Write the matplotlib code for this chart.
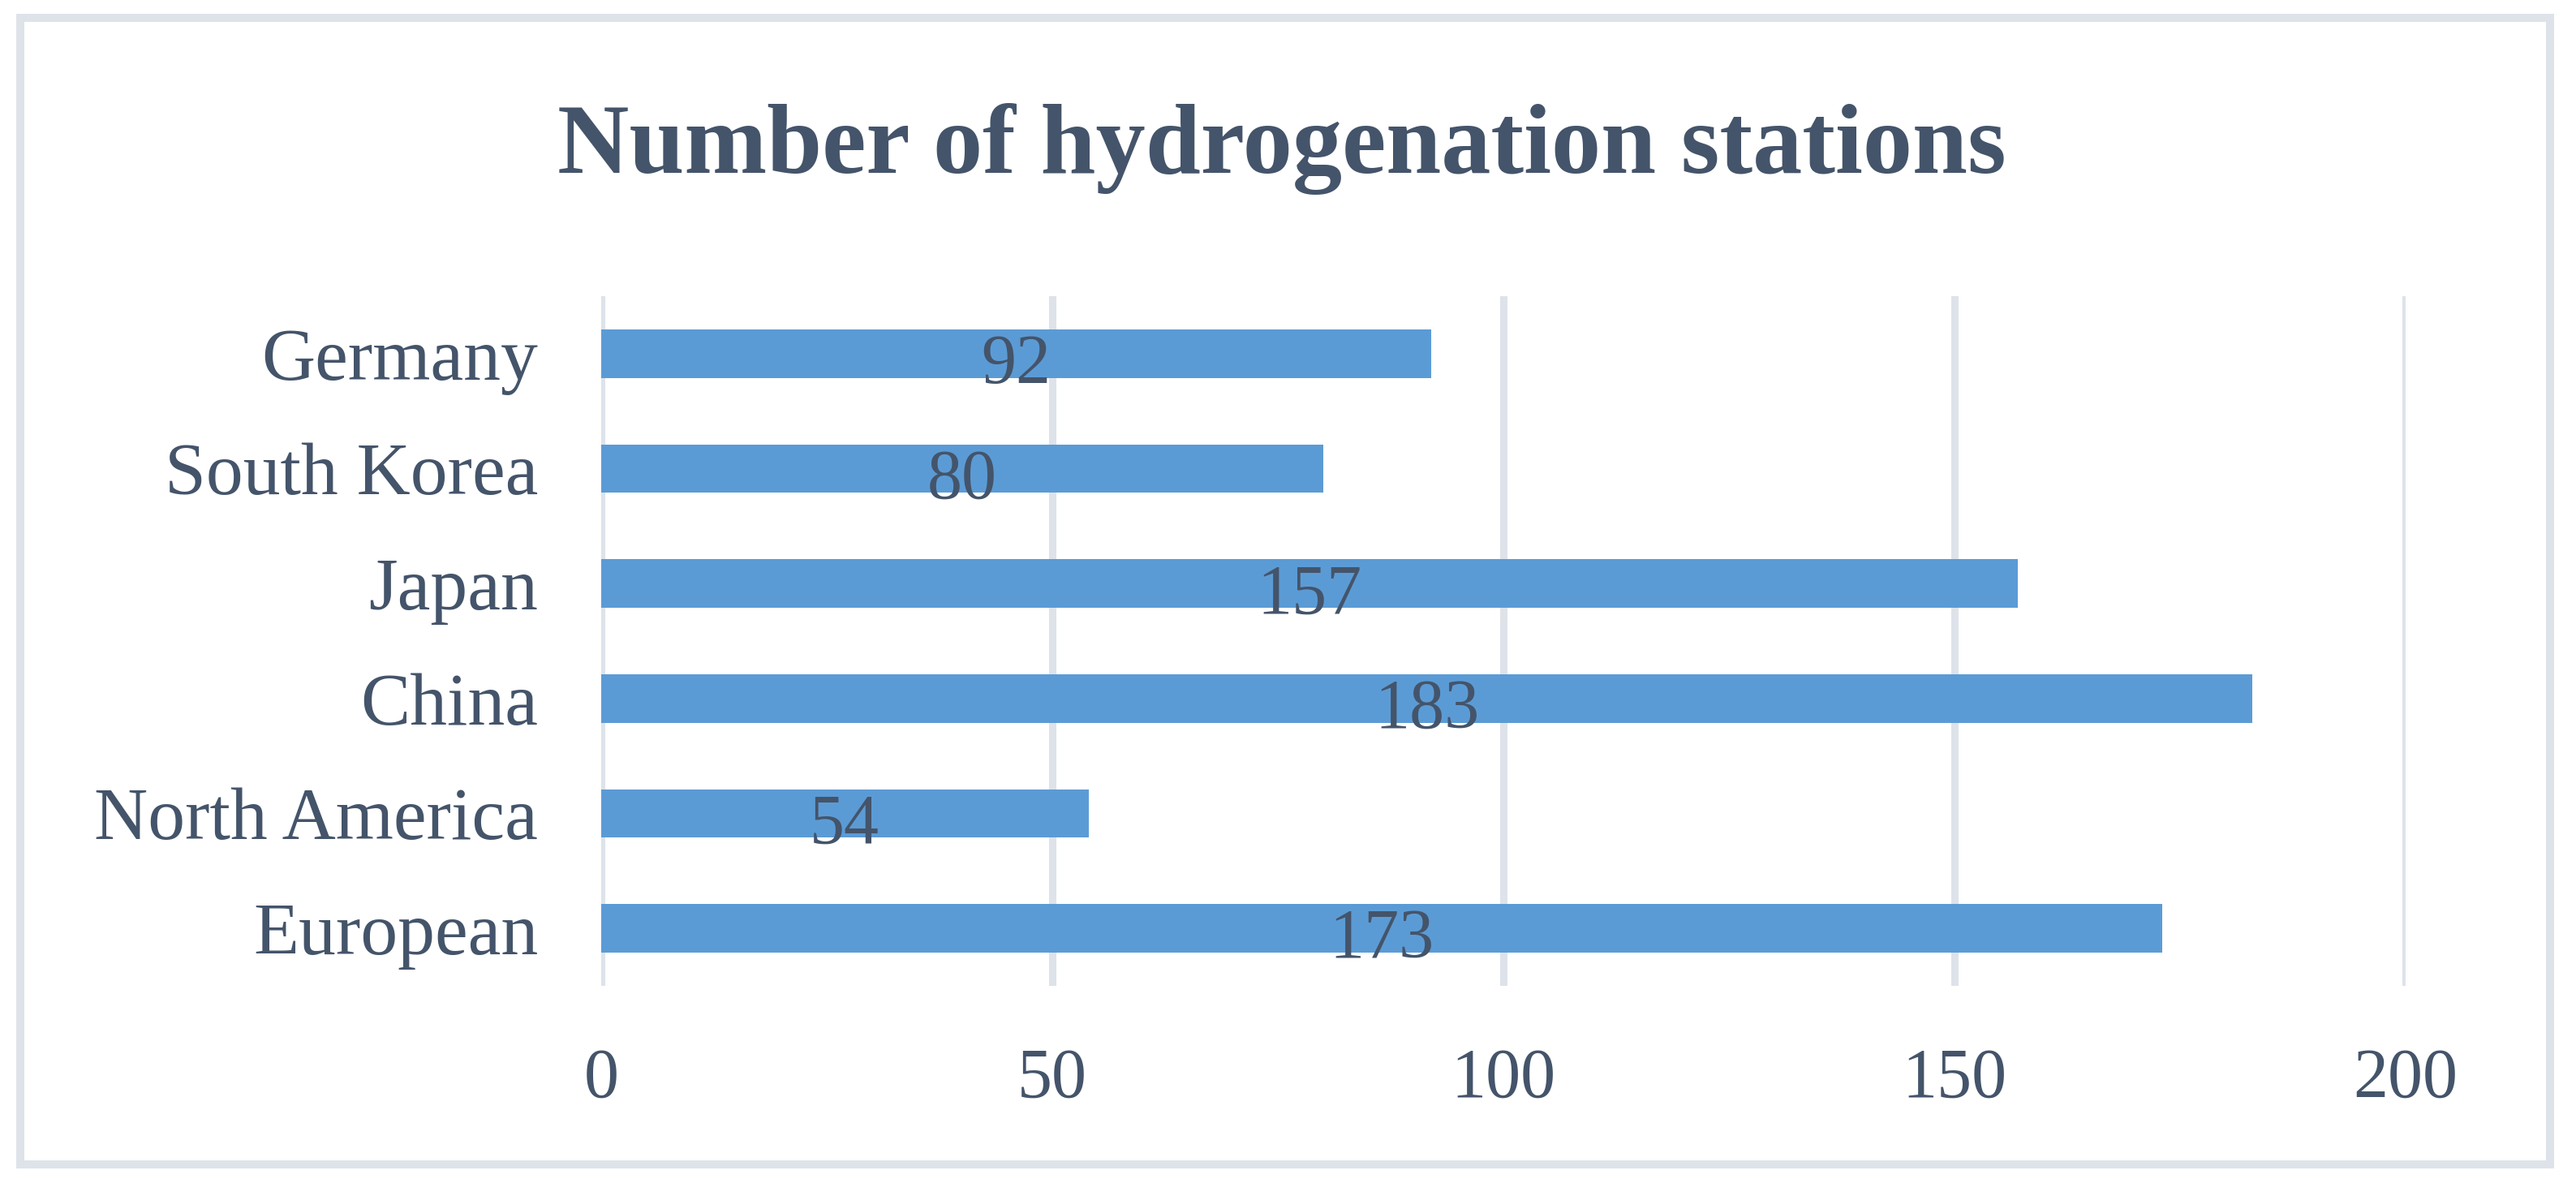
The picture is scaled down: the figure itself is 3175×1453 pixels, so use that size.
import matplotlib
matplotlib.use("Agg")
import matplotlib.pyplot as plt
from matplotlib.patches import Rectangle

# data (bottom to top as drawn)
regions = ["European", "North America", "China", "Japan", "South Korea", "Germany"]
stations = [173, 54, 183, 157, 80, 92]
xticks = [0, 50, 100, 150, 200]

text_col = "#44546A"
bar_col = "#5B9BD5"
grid_col = "#DEE3EA"

plt.rcParams["font.family"] = ["Liberation Serif", "DejaVu Serif"]

fig = plt.figure(figsize=(31.75, 14.53), dpi=100)
ax = fig.add_axes([0.2334, 0.1638, 0.7005, 0.585])

ypos = list(range(len(regions)))
ax.barh(ypos, stations, height=0.42, color=bar_col, zorder=3)

for y, v in zip(ypos, stations):
    ax.annotate(str(v), xy=(v / 2, y), xytext=(0, -26), textcoords="offset points",
                ha="center", va="baseline", fontsize=62, color=text_col, zorder=4)

ax.set_xlim(0, 200)
ax.set_ylim(-0.5, 5.5)
ax.set_xticks(xticks)
ax.set_yticks(ypos)
ax.set_yticklabels(regions)
ax.tick_params(axis="x", length=0, pad=55, labelsize=62, labelcolor=text_col)
ax.tick_params(axis="y", length=0, pad=56, labelsize=66, labelcolor=text_col)
ax.grid(axis="x", color=grid_col, linewidth=6.5, zorder=0)
ax.grid(axis="y", visible=False)
for s in ax.spines.values():
    s.set_visible(False)

fig.text(0.4975, 0.8534, "Number of hydrogenation stations", ha="center", va="baseline",
         fontsize=88, fontweight="bold", color=text_col)

# outer frame
fig.patches.append(Rectangle((0.00787, 0.0124), 0.982, 0.9725, transform=fig.transFigure,
                             fill=False, edgecolor=grid_col, linewidth=7.2))

fig.savefig("out.png", dpi=100, facecolor="white")
